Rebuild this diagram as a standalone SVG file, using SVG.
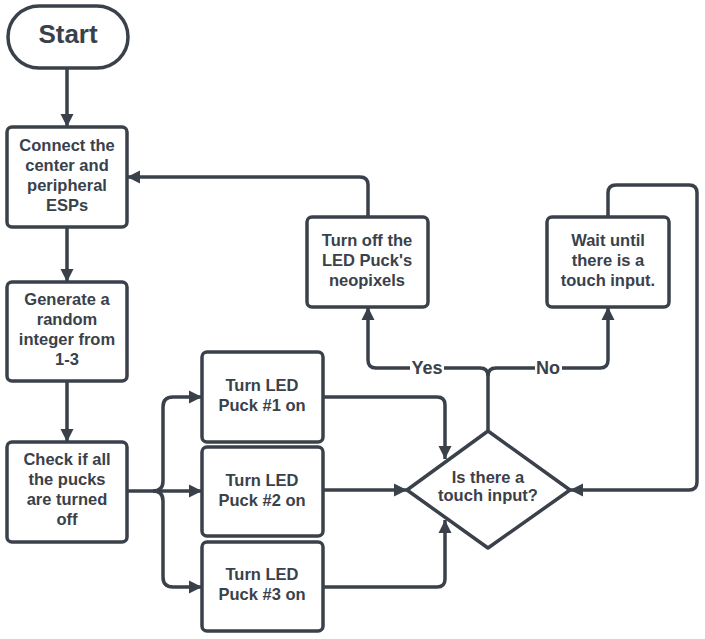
<svg xmlns="http://www.w3.org/2000/svg" width="705" height="639" viewBox="0 0 705 639">
<defs>
<style>
.n{fill:#ffffff;stroke:#3a414a;stroke-width:3.5}
.t{font-family:"Liberation Sans",Arial,sans-serif;font-weight:bold;font-size:16.5px;fill:#3a414a;text-anchor:middle}
.c{fill:none;stroke:#3a414a;stroke-width:3.5}
.lb{font-family:"Liberation Sans",Arial,sans-serif;font-weight:bold;font-size:18px;fill:#3a414a;text-anchor:middle}
</style>
<marker id="ah" markerUnits="userSpaceOnUse" markerWidth="14" markerHeight="14" refX="13" refY="7" orient="auto">
<path d="M0,0.5 L13,7 L0,13.5 Z" fill="#3a414a"/>
</marker>
</defs>
<rect width="705" height="639" fill="#ffffff"/>
<g id="connectors">
<path class="c" d="M67,68 V127" marker-end="url(#ah)"/>
<path class="c" d="M67,227 V282" marker-end="url(#ah)"/>
<path class="c" d="M67,381 V442" marker-end="url(#ah)"/>
<path class="c" d="M127,491 H202" marker-end="url(#ah)"/>
<path class="c" d="M153,491 Q163,491 163,481 V407 Q163,397 173,397 H202" marker-end="url(#ah)"/>
<path class="c" d="M153,491 Q163,491 163,501 V577 Q163,587 173,587 H202" marker-end="url(#ah)"/>
<path class="c" d="M323,397 H437 Q445,397 445,405 V459" marker-end="url(#ah)"/>
<path class="c" d="M323,490 H407" marker-end="url(#ah)"/>
<path class="c" d="M323,587 H437 Q445,587 445,579 V520" marker-end="url(#ah)"/>
<path class="c" d="M488,431 V376 Q488,368 480,368 H376 Q368,368 368,360 V307" marker-end="url(#ah)"/>
<path class="c" d="M488,376 Q488,368 496,368 H600 Q608,368 608,360 V307" marker-end="url(#ah)"/>
<path class="c" d="M368,217 V185 Q368,177 360,177 H127" marker-end="url(#ah)"/>
<path class="c" d="M608,217 V193 Q608,185 616,185 H689 Q697,185 697,193 V482 Q697,490 689,490 H570" marker-end="url(#ah)"/>
<rect x="410" y="358" width="34" height="20" fill="#ffffff"/>
<text class="lb" x="427" y="374">Yes</text>
<rect x="535" y="358" width="27" height="20" fill="#ffffff"/>
<text class="lb" x="548" y="374">No</text>
</g>
<g id="start">
<rect class="n" x="8" y="6" width="120" height="62" rx="31"/>
<text class="t" x="68" y="43" style="font-size:26px">Start</text>
</g>
<g id="connect">
<rect class="n" x="7" y="127" width="120" height="100" rx="5"/>
<text class="t" x="67" y="151">Connect the</text>
<text class="t" x="67" y="171">center and</text>
<text class="t" x="67" y="191">peripheral</text>
<text class="t" x="67" y="211">ESPs</text>
</g>
<g id="generate">
<rect class="n" x="7" y="282" width="120" height="99" rx="5"/>
<text class="t" x="67" y="305">Generate a</text>
<text class="t" x="67" y="325">random</text>
<text class="t" x="67" y="345">integer from</text>
<text class="t" x="67" y="365">1-3</text>
</g>
<g id="check">
<rect class="n" x="7" y="442" width="120" height="100" rx="5"/>
<text class="t" x="67" y="465">Check if all</text>
<text class="t" x="67" y="485">the pucks</text>
<text class="t" x="67" y="505">are turned</text>
<text class="t" x="67" y="525">off</text>
</g>
<g id="puck1">
<rect class="n" x="202" y="352" width="121" height="90" rx="5"/>
<text class="t" x="262" y="391">Turn LED</text>
<text class="t" x="262" y="411">Puck #1 on</text>
</g>
<g id="puck2">
<rect class="n" x="202" y="447" width="121" height="89" rx="5"/>
<text class="t" x="262" y="486">Turn LED</text>
<text class="t" x="262" y="506">Puck #2 on</text>
</g>
<g id="puck3">
<rect class="n" x="202" y="542" width="121" height="89" rx="5"/>
<text class="t" x="262" y="580">Turn LED</text>
<text class="t" x="262" y="600">Puck #3 on</text>
</g>
<g id="turnoff">
<rect class="n" x="307" y="217" width="121" height="90" rx="5"/>
<text class="t" x="367" y="246">Turn off the</text>
<text class="t" x="367" y="266">LED Puck's</text>
<text class="t" x="367" y="286">neopixels</text>
</g>
<g id="wait">
<rect class="n" x="547" y="217" width="122" height="90" rx="5"/>
<text class="t" x="608" y="246">Wait until</text>
<text class="t" x="608" y="266">there is a</text>
<text class="t" x="608" y="286">touch input.</text>
</g>
<g id="decision">
<path class="n" d="M488,431 L570,490 L488,548 L407,490 Z" stroke-linejoin="round"/>
<text class="t" x="488" y="483">Is there a</text>
<text class="t" x="488" y="501">touch input?</text>
</g>
</svg>
